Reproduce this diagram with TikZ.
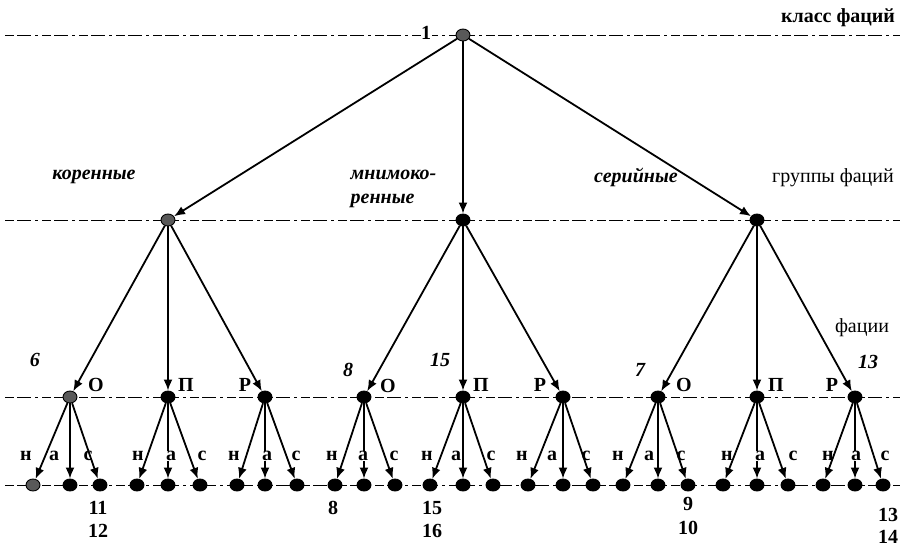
\documentclass[tikz,border=0pt]{standalone}
\usepackage{fontspec}
\setmainfont{Liberation Serif}
\usetikzlibrary{arrows.meta,shapes.geometric}
\begin{document}
\begin{tikzpicture}[x=1pt,y=-1pt,
  fnode/.style={ellipse,draw=black,fill=black,minimum width=14pt,minimum height=12pt,inner sep=0pt,line width=0.9pt},
  gnode/.style={fnode,fill=black!65},
  arr/.style={line width=1.8pt,-{Latex[length=11pt,width=9pt]}},
  lvl/.style={line width=0.9pt,dash pattern=on 9pt off 3pt on 14pt off 4pt on 3pt off 4pt},
  lab/.style={font=\fontsize{20}{22}\selectfont,inner sep=0.5pt},
  blab/.style={font=\fontsize{20}{22}\selectfont\bfseries,inner sep=0.5pt},
  ilab/.style={font=\fontsize{20}{24}\selectfont\bfseries\itshape,inner sep=0.5pt},
  alab/.style={blab,fill=white}
]
\useasboundingbox (0,0) rectangle (903,550);
% level lines
\draw[lvl] (5,35) -- (900,35);
\draw[lvl] (5,220) -- (900,220);
\draw[lvl] (5,397) -- (900,397);
\draw[lvl] (5,485) -- (900,485);
% nodes
\node[gnode] (r) at (463,35) {};
\node[gnode] (a) at (168,220) {};
\node[fnode] (b) at (463,220) {};
\node[fnode] (c) at (757,220) {};
\foreach \i/\x/\n/\c/\s/\t in {1/70/33/100/gnode/gnode, 2/168/137/200/fnode/fnode, 3/265/237/297/fnode/fnode,
  4/364/335/395/fnode/fnode, 5/463/430/493/fnode/fnode, 6/563/528/593/fnode/fnode,
  7/658/623/688/fnode/fnode, 8/757/723/788/fnode/fnode, 9/855/823/883/fnode/fnode}{
  \node[\s] (g\i) at (\x,397) {};
  \node[\t] (g\i-n) at (\n,485) {};
  \node[fnode] (g\i-a) at (\x,485) {};
  \node[fnode] (g\i-c) at (\c,485) {};
  \draw[arr] (g\i) -- (g\i-n);
  \draw[arr] (g\i) -- (g\i-a);
  \draw[arr] (g\i) -- (g\i-c);
}
\draw[arr] (r) -- (a);
\draw[arr] (r) -- (b);
\draw[arr] (r) -- (c);
\draw[arr] (a) -- (g1);
\draw[arr] (a) -- (g2);
\draw[arr] (a) -- (g3);
\draw[arr] (b) -- (g4);
\draw[arr] (b) -- (g5);
\draw[arr] (b) -- (g6);
\draw[arr] (c) -- (g7);
\draw[arr] (c) -- (g8);
\draw[arr] (c) -- (g9);
% leaf labels
\foreach \i/\p/\q/\s in {1/26/54/88, 2/138/171/202, 3/234/267/296, 4/332/363/394, 5/427/456/491,
  6/522/552/586, 7/618/649/681, 8/727/760/793, 9/828/856/885}{
  \node[blab] (ln\i) at (\p,456) {н};
  \node[alab] (la\i) at (\q,456) {а};
  \node[blab] (lc\i) at (\s,456) {с};
}
% type labels
\node[blab] (t1) at (96,385) {О};
\node[blab] (t2) at (186,385) {П};
\node[blab] (t3) at (245,385) {Р};
\node[blab] (t4) at (388,386) {О};
\node[blab] (t5) at (481,385) {П};
\node[blab] (t6) at (540,385) {Р};
\node[blab] (t7) at (684,385) {О};
\node[blab] (t8) at (776,385) {П};
\node[blab] (t9) at (832,385) {Р};
% italic numbers
\node[ilab] (n6) at (35,360) {6};
\node[ilab] (n8) at (348,370) {8};
\node[ilab] (n15) at (440,360) {15};
\node[ilab] (n7) at (640,370) {7};
\node[ilab] (n13) at (868,362) {13};
% group labels
\node[blab,fill=white] (one) at (426,33) {1};
\node[blab] (klass) at (838,18) {класс фаций};
\node[lab] (gruppy) at (833,178) {группы фаций};
\node[lab] (facii) at (862,328) {фации};
\node[ilab] (kor) at (94,177) {коренные};
\node[ilab,align=left,anchor=west] (mnim) at (350,189) {мнимоко-\\ренные};
\node[ilab] (ser) at (636,177) {серийные};
% bottom numbers
\node[blab] (b11) at (98,508) {11};
\node[blab] (b12) at (98,531) {12};
\node[blab] (b8) at (333,508) {8};
\node[blab] (b15) at (432,508) {15};
\node[blab] (b16) at (432,531) {16};
\node[blab] (b9) at (688,504) {9};
\node[blab] (b10) at (688,528) {10};
\node[blab] (b13) at (888,515) {13};
\node[blab] (b14) at (888,537) {14};
\end{tikzpicture}
\end{document}
